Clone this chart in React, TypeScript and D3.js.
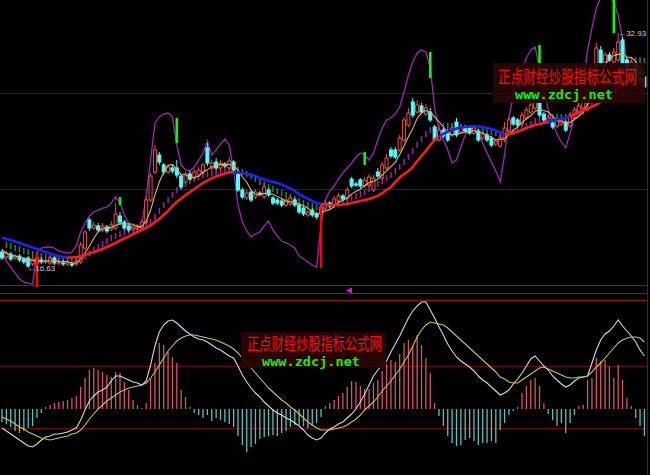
import * as d3 from "d3";
import { useEffect } from "react";

// price panel, one value per bar
const opens = [
  17.74, 17.4, 17.6, 17.33, 17.46, 17.26, 17.33, 16.91, 16.91, 17.19,
  17.05, 16.98, 17.33, 17.05, 16.98, 16.91, 16.91, 16.91, 17.05, 18.02,
  19.96, 19.41, 19.55, 19.27, 19.48, 19.34, 19.41, 20.24, 19.82, 19.55,
  19.34, 19.41, 19.41, 19.82, 21.35, 23.29, 24.47, 23.78, 23.29, 23.57,
  23.57, 23.01, 22.6, 23.15, 22.87, 23.08, 23.29, 24.96, 23.57, 23.98,
  23.57, 23.85, 23.57, 23.98, 23.15, 22.04, 21.49, 21.9, 21.56, 21.83,
  21.56, 22.04, 21.49, 21.35, 21.28, 21.0, 21.07, 21.35, 21.0, 20.79,
  20.31, 20.65, 20.38, 20.38, 20.79, 21.14, 21.0, 21.28, 21.63, 21.49,
  22.8, 22.46, 22.74, 22.32, 22.39, 22.04, 23.29, 22.87, 23.57, 24.82,
  24.82, 24.82, 25.51, 26.55, 28.15, 27.45, 27.87, 27.31, 27.45, 26.41,
  25.51, 26.2, 26.13, 25.86, 26.76, 26.06, 26.41, 26.34, 25.99, 26.13,
  25.65, 25.86, 25.65, 25.23, 25.09, 25.51, 26.2, 27.04, 26.9, 26.62,
  27.04, 27.45, 27.73, 28.08, 27.31, 26.76, 26.69, 26.48, 26.62, 26.76,
  26.48, 27.04, 27.45, 27.73, 28.01, 28.84, 30.71, 31.75, 30.92, 31.41,
  30.92, 31.06, 32.45, 31.06, 30.36, 30.71, 30.23, 29.88,
];
const closes = [
  17.33, 17.67, 17.26, 17.46, 17.19, 17.05, 16.77, 17.26, 17.33, 17.05,
  17.12, 17.33, 16.98, 17.05, 16.91, 17.05, 16.84, 17.12, 18.23, 19.13,
  19.41, 19.61, 19.27, 19.55, 19.2, 19.61, 20.38, 19.82, 19.41, 19.27,
  19.48, 19.55, 19.82, 21.35, 23.01, 24.82, 23.98, 23.29, 23.64, 23.36,
  23.08, 22.25, 23.15, 22.8, 23.29, 23.43, 23.78, 23.91, 23.91, 23.57,
  23.91, 23.71, 24.05, 23.43, 22.04, 21.56, 21.83, 21.35, 21.9, 21.76,
  22.25, 21.7, 21.14, 21.14, 21.0, 21.35, 21.49, 21.0, 20.52, 20.38,
  20.52, 20.31, 20.17, 20.86, 21.14, 20.93, 21.42, 21.63, 21.42, 22.04,
  22.32, 22.39, 22.32, 22.74, 22.94, 22.87, 23.01, 23.78, 24.26, 24.4,
  24.33, 25.65, 26.9, 27.38, 27.24, 27.94, 27.45, 27.73, 26.9, 25.51,
  26.2, 25.79, 25.51, 26.34, 25.86, 26.41, 26.13, 25.99, 26.34, 25.51,
  25.93, 25.51, 25.16, 25.44, 25.65, 26.34, 26.9, 26.62, 26.55, 27.24,
  27.59, 27.94, 28.15, 27.24, 26.9, 27.04, 26.41, 26.83, 26.9, 26.2,
  27.24, 27.59, 27.87, 28.28, 28.98, 30.5, 31.89, 30.85, 31.41, 31.06,
  31.61, 32.31, 30.85, 30.5, 30.92, 30.23, 29.67, 29.19,
];
const highs = [
  17.95, 17.81, 17.74, 17.6, 17.6, 17.4, 17.46, 17.4, 17.53, 17.4,
  17.26, 17.46, 17.46, 17.26, 17.19, 17.19, 17.05, 17.33, 18.44, 19.27,
  20.1, 19.82, 19.75, 19.75, 19.61, 19.89, 21.14, 20.52, 19.96, 19.68,
  19.61, 19.68, 19.96, 21.56, 23.22, 25.16, 24.68, 23.91, 23.85, 23.78,
  24.12, 23.15, 23.29, 23.36, 23.5, 23.64, 23.91, 25.3, 24.12, 24.26,
  24.12, 23.98, 24.33, 24.12, 23.29, 22.18, 22.04, 22.04, 22.11, 21.97,
  22.53, 22.18, 21.63, 21.49, 21.42, 21.49, 21.63, 21.49, 21.14, 20.93,
  20.65, 20.79, 20.52, 21.0, 21.35, 21.28, 21.63, 21.83, 21.76, 22.25,
  22.94, 22.6, 22.87, 22.94, 23.15, 23.08, 23.57, 23.98, 24.54, 25.02,
  25.02, 25.86, 27.11, 27.73, 28.42, 28.28, 28.08, 28.01, 27.73, 26.55,
  26.41, 26.34, 26.27, 26.55, 27.04, 26.62, 26.55, 26.48, 26.55, 26.27,
  26.13, 25.99, 25.79, 25.58, 25.86, 26.76, 27.11, 27.17, 27.04, 27.45,
  27.8, 28.15, 28.42, 28.28, 27.45, 27.24, 26.83, 27.04, 27.11, 26.9,
  27.45, 27.8, 28.08, 28.56, 29.25, 30.85, 32.24, 32.03, 31.61, 31.61,
  31.89, 32.93, 32.65, 31.27, 31.06, 30.85, 30.36, 30.02,
];
const lows = [
  17.19, 17.26, 17.12, 17.19, 17.05, 16.91, 16.63, 16.77, 16.77, 16.91,
  16.91, 16.84, 16.84, 16.84, 16.77, 16.77, 16.7, 16.77, 16.91, 17.88,
  19.2, 19.27, 19.13, 19.13, 19.06, 19.2, 19.27, 19.61, 19.27, 19.13,
  19.2, 19.27, 19.27, 19.68, 21.21, 23.15, 23.78, 23.08, 23.15, 23.22,
  22.87, 22.11, 22.46, 22.67, 22.74, 22.94, 23.15, 23.71, 23.43, 23.43,
  23.43, 23.57, 23.43, 23.29, 21.9, 21.42, 21.35, 21.21, 21.42, 21.63,
  21.42, 21.56, 21.0, 21.0, 20.86, 20.86, 20.93, 20.86, 20.38, 20.24,
  20.17, 20.17, 20.03, 20.24, 20.65, 20.79, 20.86, 21.14, 21.28, 21.35,
  22.18, 22.25, 22.18, 22.18, 22.25, 21.9, 22.87, 22.74, 23.43, 24.26,
  24.19, 24.68, 25.37, 26.41, 27.04, 27.31, 27.31, 27.17, 26.76, 25.37,
  25.37, 25.65, 25.37, 25.72, 25.72, 25.93, 25.99, 25.86, 25.86, 25.37,
  25.51, 25.37, 25.02, 25.09, 24.96, 25.37, 26.06, 26.48, 26.41, 26.48,
  26.9, 27.31, 27.59, 27.11, 26.76, 26.62, 26.27, 26.34, 26.48, 26.06,
  26.34, 26.9, 27.31, 27.59, 27.87, 28.7, 30.5, 30.71, 30.78, 30.92,
  30.78, 30.92, 30.71, 30.36, 30.23, 30.09, 29.53, 29.05,
];
const ma5 = [
  17.88, 17.67, 17.53, 17.46, 17.38, 17.33, 17.26, 17.16, 17.13, 17.1,
  17.12, 17.12, 17.16, 17.1, 17.08, 17.06, 16.96, 16.99, 17.23, 17.67,
  18.14, 18.7, 19.13, 19.39, 19.41, 19.45, 19.6, 19.71, 19.68, 19.7,
  19.67, 19.5, 19.5, 19.89, 20.64, 21.71, 22.6, 23.29, 23.75, 23.82,
  23.47, 23.12, 23.1, 22.93, 22.92, 22.99, 23.29, 23.44, 23.66, 23.72,
  23.82, 23.8, 23.83, 23.73, 23.43, 22.96, 22.58, 22.04, 21.74, 21.68,
  21.82, 21.79, 21.75, 21.6, 21.45, 21.27, 21.22, 21.2, 21.07, 20.95,
  20.78, 20.54, 20.38, 20.45, 20.6, 20.68, 20.9, 21.2, 21.31, 21.49,
  21.76, 21.96, 22.1, 22.36, 22.54, 22.65, 22.78, 23.07, 23.37, 23.66,
  23.96, 24.48, 25.11, 25.73, 26.3, 27.02, 27.38, 27.55, 27.45, 27.11,
  26.76, 26.43, 25.98, 25.87, 25.94, 25.98, 26.05, 26.15, 26.15, 26.08,
  25.98, 25.86, 25.69, 25.51, 25.54, 25.62, 25.9, 26.19, 26.41, 26.73,
  26.98, 27.19, 27.49, 27.63, 27.56, 27.45, 27.15, 26.88, 26.81, 26.67,
  26.72, 26.95, 27.16, 27.44, 27.99, 28.64, 29.5, 30.1, 30.73, 31.14,
  31.36, 31.45, 31.45, 31.27, 31.24, 30.96, 30.43, 30.1,
];
// medium average, drawn as short ticks
const ma10 = [
  18.37, 18.23, 18.16, 18.02, 17.95, 17.81, 17.74, 17.6, 17.53, 17.46,
  17.39, 17.33, 17.33, 17.26, 17.26, 17.19, 17.19, 17.19, 17.26, 17.46,
  17.67, 17.88, 18.09, 18.3, 18.5, 18.71, 18.85, 18.99, 19.13, 19.2,
  19.27, 19.34, 19.41, 19.55, 19.82, 20.17, 20.59, 21.0, 21.35, 21.7,
  22.04, 22.25, 22.46, 22.67, 22.8, 22.94, 23.08, 23.15, 23.22, 23.29,
  23.36, 23.43, 23.5, 23.5, 23.43, 23.29, 23.15, 23.01, 22.8, 22.6,
  22.39, 22.25, 22.11, 21.97, 21.83, 21.7, 21.56, 21.42, 21.28, 21.14,
  21.0, 20.93, 20.86, 20.86, 20.86, 20.93, 21.0, 21.07, 21.21, 21.35,
  21.49, 21.63, 21.76, 21.9, 22.11, 22.25, 22.46, 22.67, 22.87, 23.08,
  23.36, 23.64, 23.98, 24.33, 24.75, 25.16, 25.58, 25.93, 26.2, 26.34,
  26.41, 26.48, 26.48, 26.48, 26.48, 26.41, 26.34, 26.34, 26.27, 26.2,
  26.2, 26.13, 26.06, 25.99, 25.93, 25.93, 25.99, 26.06, 26.2, 26.34,
  26.48, 26.62, 26.83, 26.97, 27.04, 27.11, 27.11, 27.11, 27.11, 27.11,
  27.17, 27.24, 27.38, 27.52, 27.73, 28.01, 28.42, 28.84, 29.25, 29.67,
  30.02, 30.36, 30.64, 30.85, 30.99, 31.06, 31.06, 30.99,
];
// long average, thick red / blue
const ma60 = [
  18.75, 18.64, 18.57, 18.47, 18.37, 18.26, 18.16, 18.05, 17.95, 17.85,
  17.74, 17.64, 17.53, 17.46, 17.39, 17.36, 17.36, 17.39, 17.43, 17.53,
  17.64, 17.74, 17.85, 17.95, 18.09, 18.23, 18.37, 18.54, 18.68, 18.82,
  18.99, 19.13, 19.27, 19.41, 19.58, 19.82, 20.03, 20.31, 20.59, 20.93,
  21.21, 21.45, 21.7, 21.9, 22.11, 22.32, 22.53, 22.7, 22.87, 22.98,
  23.08, 23.19, 23.26, 23.29, 23.26, 23.22, 23.15, 23.08, 23.01, 22.87,
  22.77, 22.67, 22.6, 22.53, 22.42, 22.28, 22.15, 21.97, 21.76, 21.59,
  21.42, 21.28, 21.14, 21.07, 21.04, 21.0, 21.0, 21.0, 21.04, 21.07,
  21.14, 21.21, 21.28, 21.35, 21.42, 21.52, 21.63, 21.83, 22.04, 22.25,
  22.6, 22.91, 23.15, 23.36, 23.64, 24.05, 24.4, 24.75, 25.16, 25.51,
  25.79, 25.93, 26.1, 26.2, 26.31, 26.38, 26.41, 26.45, 26.48, 26.45,
  26.41, 26.34, 26.27, 26.17, 25.99, 25.89, 25.89, 25.99, 26.1, 26.2,
  26.34, 26.45, 26.55, 26.62, 26.69, 26.79, 26.86, 26.93, 27.0, 27.07,
  27.14, 27.28, 27.42, 27.56, 27.66, 27.83, 27.97, 28.15, 28.39, 28.63,
  28.84, 29.08, 29.32, 29.53, 29.74, 29.88, 29.95, 29.91,
];
const ma60BlueFrom = [0, 53, 100, 125, 145];
const ma60BlueTo = [15, 73, 115, 130, 147];
// purple envelope line
const envelope = [
  17.6, 17.12, 16.7, 16.29, 15.87, 15.66, 15.59, 15.52, 17.74, 18.02,
  18.09, 18.09, 18.02, 17.81, 17.74, 17.67, 17.74, 18.16, 19.13, 19.75,
  20.24, 20.52, 20.65, 20.79, 20.86, 21.14, 21.56, 21.14, 20.31, 19.75,
  19.41, 19.27, 19.68, 21.63, 24.12, 26.69, 27.11, 27.31, 27.38, 27.11,
  25.16, 23.78, 23.43, 23.36, 23.64, 24.12, 24.61, 25.44, 24.47, 24.82,
  25.23, 25.58, 25.16, 23.43, 21.0, 19.82, 19.2, 18.78, 18.99, 19.13,
  19.55, 19.89, 19.27, 18.85, 18.5, 18.37, 18.23, 18.02, 17.46, 17.26,
  17.05, 16.84, 16.7, 19.61, 21.35, 21.97, 22.32, 22.8, 23.22, 23.57,
  23.91, 24.33, 24.61, 24.47, 24.12, 24.61, 25.51, 26.34, 26.9, 27.04,
  27.31, 27.8, 28.84, 30.02, 30.92, 31.54, 31.75, 31.61, 30.5, 27.73,
  26.2, 25.51, 24.82, 23.91, 24.12, 25.02, 25.86, 26.27, 26.41, 25.93,
  25.3, 24.61, 23.98, 23.36, 22.6, 24.47, 27.04, 28.63, 29.53, 30.36,
  31.2, 31.75, 31.96, 30.5, 28.84, 27.59, 26.69, 25.93, 25.37, 24.96,
  25.99, 27.04, 28.15, 29.46, 31.75, 33.28, 34.67, 35.36, 35.43, 35.43,
  35.08, 34.18, 32.58, 31.06, 29.67, 29.25, 29.39, 29.81,
];
const buyBars = [8, 73];
const buyTop = [17.67, 20.86];
const buyBottom = [15.31, 16.63];
const sellBars = [27, 40, 83, 98, 123, 140];
const sellTop = [21.56, 27.04, 24.68, 31.61, 32.1, 35.22];
const sellBottom = [21.0, 25.3, 23.78, 29.81, 30.85, 32.93];

// MACD panel
const dif = [
  -0.19, -0.22, -0.25, -0.28, -0.31, -0.34, -0.37, -0.38, -0.35, -0.31,
  -0.28, -0.27, -0.25, -0.25, -0.24, -0.23, -0.21, -0.19, -0.11, -0.01,
  0.08, 0.13, 0.17, 0.19, 0.22, 0.28, 0.33, 0.33, 0.31, 0.29,
  0.27, 0.26, 0.24, 0.28, 0.44, 0.63, 0.77, 0.84, 0.88, 0.89,
  0.86, 0.82, 0.78, 0.75, 0.72, 0.7, 0.69, 0.67, 0.64, 0.61,
  0.59, 0.56, 0.53, 0.51, 0.43, 0.34, 0.27, 0.21, 0.16, 0.12,
  0.07, 0.03, -0.01, -0.04, -0.06, -0.09, -0.11, -0.14, -0.17, -0.21,
  -0.26, -0.29, -0.31, -0.29, -0.24, -0.2, -0.18, -0.15, -0.13, -0.09,
  -0.05, 0.0, 0.07, 0.15, 0.24, 0.33, 0.39, 0.44, 0.48, 0.57,
  0.65, 0.73, 0.82, 0.91, 0.98, 1.03, 1.07, 1.07, 0.99, 0.91,
  0.82, 0.74, 0.65, 0.58, 0.52, 0.48, 0.45, 0.42, 0.38, 0.33,
  0.29, 0.26, 0.22, 0.18, 0.14, 0.16, 0.19, 0.25, 0.3, 0.36,
  0.43, 0.5, 0.53, 0.48, 0.43, 0.39, 0.33, 0.29, 0.25, 0.22,
  0.24, 0.28, 0.31, 0.32, 0.33, 0.46, 0.59, 0.69, 0.75, 0.78,
  0.83, 0.89, 0.83, 0.78, 0.73, 0.67, 0.59, 0.53,
];
const dea = [
  -0.08, -0.1, -0.12, -0.15, -0.18, -0.2, -0.23, -0.25, -0.27, -0.29,
  -0.3, -0.31, -0.3, -0.29, -0.28, -0.27, -0.25, -0.24, -0.21, -0.16,
  -0.1, -0.05, 0.0, 0.04, 0.08, 0.11, 0.14, 0.17, 0.19, 0.21,
  0.22, 0.23, 0.24, 0.26, 0.31, 0.37, 0.44, 0.51, 0.58, 0.63,
  0.68, 0.71, 0.73, 0.74, 0.74, 0.73, 0.72, 0.71, 0.7, 0.69,
  0.67, 0.65, 0.63, 0.6, 0.56, 0.51, 0.46, 0.41, 0.36, 0.31,
  0.26, 0.21, 0.17, 0.13, 0.09, 0.06, 0.02, -0.01, -0.05, -0.09,
  -0.13, -0.16, -0.19, -0.21, -0.21, -0.21, -0.2, -0.19, -0.18, -0.16,
  -0.13, -0.1, -0.06, -0.01, 0.03, 0.07, 0.12, 0.18, 0.23, 0.28,
  0.34, 0.4, 0.47, 0.54, 0.63, 0.72, 0.79, 0.84, 0.87, 0.86,
  0.85, 0.84, 0.81, 0.77, 0.73, 0.69, 0.65, 0.61, 0.57, 0.53,
  0.49, 0.45, 0.41, 0.37, 0.32, 0.3, 0.27, 0.26, 0.26, 0.29,
  0.32, 0.35, 0.38, 0.41, 0.42, 0.4, 0.38, 0.36, 0.34, 0.32,
  0.31, 0.31, 0.32, 0.32, 0.33, 0.37, 0.42, 0.46, 0.51, 0.56,
  0.61, 0.66, 0.69, 0.71, 0.72, 0.72, 0.71, 0.67,
];
const macdHist = [
  -0.13, -0.15, -0.18, -0.22, -0.24, -0.22, -0.19, -0.17, -0.09, -0.04,
  0.02, 0.04, 0.06, 0.07, 0.08, 0.09, 0.11, 0.13, 0.22, 0.31,
  0.39, 0.41, 0.39, 0.37, 0.34, 0.32, 0.37, 0.36, 0.27, 0.19,
  0.09, 0.04, 0.01, 0.06, 0.31, 0.46, 0.66, 0.64, 0.57, 0.52,
  0.46, 0.19, 0.12, 0.02, -0.04, -0.06, -0.09, -0.06, -0.12, -0.09,
  -0.11, -0.13, -0.15, -0.18, -0.27, -0.36, -0.43, -0.38, -0.35, -0.3,
  -0.28, -0.27, -0.26, -0.27, -0.24, -0.22, -0.18, -0.16, -0.16, -0.17,
  -0.19, -0.17, -0.14, -0.08, 0.03, 0.06, 0.09, 0.13, 0.16, 0.22,
  0.28, 0.27, 0.23, 0.2, 0.2, 0.26, 0.29, 0.38, 0.45, 0.49,
  0.47, 0.55, 0.66, 0.69, 0.63, 0.74, 0.64, 0.51, 0.36, 0.06,
  -0.07, -0.17, -0.27, -0.34, -0.37, -0.36, -0.31, -0.29, -0.32, -0.36,
  -0.34, -0.34, -0.32, -0.34, -0.21, -0.14, -0.06, -0.02, 0.02, 0.16,
  0.23, 0.29, 0.31, 0.23, 0.06, -0.05, -0.11, -0.17, -0.14, -0.24,
  -0.14, -0.06, 0.03, 0.04, 0.29, 0.31, 0.51, 0.48, 0.49, 0.43,
  0.31, 0.44, 0.29, 0.11, 0.03, -0.09, -0.17, -0.27,
];

const siteName = "正点财经炒股指标公式网";
const siteUrl = "www.zdcj.net";

const W = 650;
const H = 475;
const N = closes.length;

const x = d3.scaleLinear().domain([0, N - 1]).range([2, 644.4]);
const yP = d3.scaleLinear().domain([15.1, 35.22]).range([290.1, 0]);
const yM = d3.scaleLinear().domain([-0.66, 1.09]).range([475, 300]);

const priceLine = d3
  .line<number>()
  .x((_, i) => x(i))
  .y((d) => yP(d));
const macdLine = d3
  .line<number>()
  .x((_, i) => x(i))
  .y((d) => yM(d));

const isBlue = (i: number) => ma60BlueFrom.some((f, k) => i >= f && i < ma60BlueTo[k]);

// split the long average into red / blue runs
function longRuns() {
  const runs: { color: string; pts: [number, number][] }[] = [];
  for (let i = 0; i < N - 1; i++) {
    const color = isBlue(i) ? "#1f1fff" : "#ff1a1a";
    const last = runs[runs.length - 1];
    if (!last || last.color !== color) {
      runs.push({ color, pts: [[x(i), yP(ma60[i])]] });
    }
    runs[runs.length - 1].pts.push([x(i + 1), yP(ma60[i + 1])]);
  }
  return runs;
}

// site stamp: dark box, narrow red title, green url
function Watermark({ bx, by, bw, bh, t1x, t1y, t1sx, t2x, t2y, t2w }: any) {
  return (
    <g>
      <rect x={bx} y={by} width={bw} height={bh} fill="#2a0505" opacity={0.92} />
      <g transform={`translate(${t1x},${t1y}) scale(${t1sx},1)`}>
        <text
          x={0}
          y={0}
          fill="#ff0a0a"
          fontSize={17}
          fontFamily="'Noto Sans CJK SC', sans-serif"
        >
          {siteName}
        </text>
      </g>
      <text
        x={t2x}
        y={t2y}
        fill="#12f012"
        fontSize={13}
        fontWeight="bold"
        fontFamily="'DejaVu Sans Mono', monospace"
        textLength={t2w}
        lengthAdjust="spacingAndGlyphs"
      >
        {siteUrl}
      </text>
    </g>
  );
}

export default function App() {
  useEffect(() => {
    document.body.style.margin = "0";
    document.body.style.background = "#000";
  }, []);

  const lowIdx = d3.minIndex(lows);
  const highIdx = d3.maxIndex(highs);
  const zero = yM(0);

  return (
    <svg
      width={W}
      height={H}
      style={{ position: "absolute", left: 0, top: 0, display: "block", background: "#000" }}
    >
      <defs>
        <clipPath id="top">
          <rect x={0} y={0} width={647} height={291} />
        </clipPath>
        <clipPath id="bottom">
          <rect x={0} y={301} width={647} height={174} />
        </clipPath>
      </defs>
      <rect width={W} height={H} fill="#000" />

      {/* grid */}
      {[93, 189].map((y) => (
        <line key={y} x1={0} x2={647} y1={y + 0.5} y2={y + 0.5} stroke="#6e0c0c" />
      ))}
      {[285, 293, 300].map((y) => (
        <line key={y} x1={0} x2={647} y1={y + 0.5} y2={y + 0.5} stroke="#9a1414" />
      ))}
      {[366, 428].map((y) => (
        <line key={y} x1={0} x2={647} y1={y + 0.5} y2={y + 0.5} stroke="#6e0c0c" />
      ))}
      <line x1={647.5} x2={647.5} y1={0} y2={H} stroke="#7a1010" />

      <g clipPath="url(#top)">
        {/* medium average ticks */}
        {ma10.map((v, i) =>
          i === 0 ? null : (
            <line
              key={`t${i}`}
              x1={x(i)}
              x2={x(i)}
              y1={yP(v) - 3}
              y2={yP(v) + 3}
              stroke={v > ma10[i - 1] ? "#a01fa8" : "#1f8a45"}
              strokeWidth={1.5}
            />
          ),
        )}

        <path d={priceLine(envelope) ?? ""} fill="none" stroke="#a326b8" strokeWidth={1.3} />

        {/* candles */}
        {closes.map((c, i) => {
          const o = opens[i];
          const up = c >= o;
          const col = up ? "#f04c4c" : "#54fcfc";
          const top = yP(Math.max(o, c));
          const bot = yP(Math.min(o, c));
          return (
            <g key={`c${i}`}>
              <line x1={x(i)} x2={x(i)} y1={yP(highs[i])} y2={yP(lows[i])} stroke={col} />
              <rect
                x={x(i) - 1.5}
                y={top}
                width={3}
                height={Math.max(1, bot - top)}
                fill={up ? "#000" : col}
                stroke={col}
                strokeWidth={1}
              />
            </g>
          );
        })}

        <path d={priceLine(ma5) ?? ""} fill="none" stroke="#e2b452" strokeWidth={1.1} />

        {longRuns().map((r, k) => (
          <path
            key={`r${k}`}
            d={d3.line()(r.pts) ?? ""}
            fill="none"
            stroke={r.color}
            strokeWidth={2.6}
          />
        ))}

        {sellBars.map((b, k) => (
          <line
            key={`s${k}`}
            x1={x(b)}
            x2={x(b)}
            y1={yP(sellTop[k])}
            y2={yP(sellBottom[k])}
            stroke="#00ff00"
            strokeWidth={2.5}
          />
        ))}
        {buyBars.map((b, k) => (
          <line
            key={`b${k}`}
            x1={x(b)}
            x2={x(b)}
            y1={yP(buyTop[k])}
            y2={yP(buyBottom[k])}
            stroke="#ff0000"
            strokeWidth={2.5}
          />
        ))}
      </g>

      <text
        x={x(lowIdx) - 1}
        y={yP(lows[lowIdx]) + 3}
        fill="#cfcfcf"
        fontSize={8}
        fontFamily="'Liberation Sans', Arial, sans-serif"
      >
        {`←${lows[lowIdx].toFixed(2)}`}
      </text>
      <text
        x={x(highIdx)}
        y={yP(highs[highIdx]) + 3}
        fill="#cfcfcf"
        fontSize={8}
        fontFamily="'Liberation Sans', Arial, sans-serif"
      >
        {`←${highs[highIdx].toFixed(2)}`}
      </text>

      <polygon points="346,290.5 352,287.5 352,293.5" fill="#ff00ff" />

      <Watermark bx={493} by={63} bw={152} bh={40} t1x={498} t1y={83} t1sx={0.743} t2x={515} t2y={99} t2w={98} />

      <g clipPath="url(#bottom)">
        {macdHist.map((v, i) => (
          <line
            key={`h${i}`}
            x1={x(i)}
            x2={x(i)}
            y1={zero}
            y2={yM(v)}
            stroke={v >= 0 ? "#d4566a" : "#5cc0c0"}
            strokeWidth={1.3}
          />
        ))}
        <path d={macdLine(dif) ?? ""} fill="none" stroke="#d8d8d8" strokeWidth={1.1} />
        <path d={macdLine(dea) ?? ""} fill="none" stroke="#c8c83a" strokeWidth={1.1} />
      </g>

      <Watermark bx={241} by={332} bw={145} bh={36} t1x={247} t1y={350} t1sx={0.722} t2x={262} t2y={366} t2w={98} />
    </svg>
  );
}
